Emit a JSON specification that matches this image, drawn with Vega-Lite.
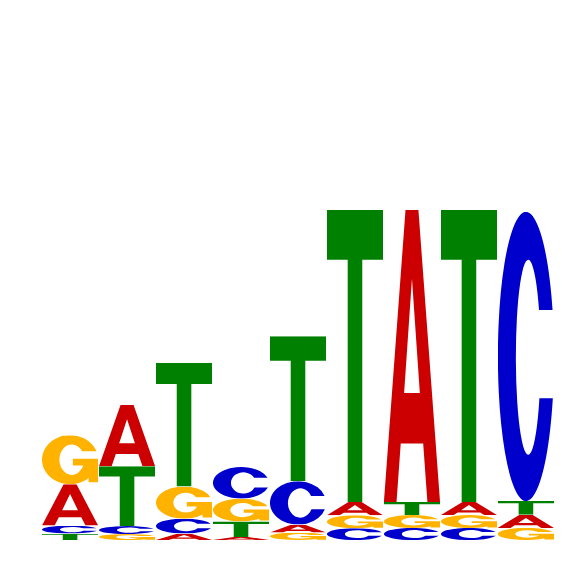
{
  "$schema": "https://vega.github.io/schema/vega-lite/v6.json",
  "width": 512,
  "height": 514,
  "autosize": {"type": "none"},
  "padding": {"left": 42, "top": 26, "right": 12, "bottom": 26},
  "background": "white",
  "config": {"view": {"stroke": null}},
  "data": {
    "values": [
      {"pos": 1, "letter": "T", "bits": 0.025},
      {"pos": 1, "letter": "C", "bits": 0.031},
      {"pos": 1, "letter": "A", "bits": 0.161},
      {"pos": 1, "letter": "G", "bits": 0.191},
      {"pos": 2, "letter": "G", "bits": 0.023},
      {"pos": 2, "letter": "C", "bits": 0.031},
      {"pos": 2, "letter": "T", "bits": 0.233},
      {"pos": 2, "letter": "A", "bits": 0.239},
      {"pos": 3, "letter": "A", "bits": 0.025},
      {"pos": 3, "letter": "C", "bits": 0.058},
      {"pos": 3, "letter": "G", "bits": 0.125},
      {"pos": 3, "letter": "T", "bits": 0.481},
      {"pos": 4, "letter": "A", "bits": 0.012},
      {"pos": 4, "letter": "T", "bits": 0.060},
      {"pos": 4, "letter": "G", "bits": 0.089},
      {"pos": 4, "letter": "C", "bits": 0.123},
      {"pos": 5, "letter": "G", "bits": 0.029},
      {"pos": 5, "letter": "A", "bits": 0.031},
      {"pos": 5, "letter": "C", "bits": 0.169},
      {"pos": 5, "letter": "T", "bits": 0.564},
      {"pos": 6, "letter": "C", "bits": 0.046},
      {"pos": 6, "letter": "G", "bits": 0.050},
      {"pos": 6, "letter": "A", "bits": 0.052},
      {"pos": 6, "letter": "T", "bits": 1.136},
      {"pos": 7, "letter": "C", "bits": 0.047},
      {"pos": 7, "letter": "G", "bits": 0.050},
      {"pos": 7, "letter": "T", "bits": 0.051},
      {"pos": 7, "letter": "A", "bits": 1.136},
      {"pos": 8, "letter": "C", "bits": 0.047},
      {"pos": 8, "letter": "G", "bits": 0.050},
      {"pos": 8, "letter": "A", "bits": 0.051},
      {"pos": 8, "letter": "T", "bits": 1.136},
      {"pos": 9, "letter": "G", "bits": 0.047},
      {"pos": 9, "letter": "A", "bits": 0.051},
      {"pos": 9, "letter": "T", "bits": 0.054},
      {"pos": 9, "letter": "C", "bits": 1.125}
    ]
  },
  "transform": [
    {
      "stack": "bits",
      "groupby": ["pos"],
      "sort": [{"field": "bits", "order": "ascending"}],
      "as": ["y0", "y1"]
    }
  ],
  "mark": {"type": "image", "aspect": false},
  "encoding": {
    "x": {
      "field": "pos",
      "type": "ordinal",
      "axis": null,
      "scale": {"paddingInner": 0.015, "paddingOuter": 0}
    },
    "y": {
      "field": "y1",
      "type": "quantitative",
      "axis": null,
      "scale": {"domain": [0, 2]}
    },
    "y2": {"field": "y0"},
    "url": {
      "condition": [
        {
          "test": "datum.letter === 'A'",
          "value": "data:image/svg+xml;charset=utf-8,<svg xmlns='http://www.w3.org/2000/svg' viewBox='0 0 100 100' preserveAspectRatio='none'><path fill='%23CC0000' fill-rule='evenodd' d='M0,100L38.5,0H61.5L100,100H77.5L70,80H30L22.5,100ZM50,23.5L64,62.7H36Z'/></svg>"
        },
        {
          "test": "datum.letter === 'C'",
          "value": "data:image/svg+xml;charset=utf-8,<svg xmlns='http://www.w3.org/2000/svg' viewBox='0 0 100 100' preserveAspectRatio='none'><path fill='%230000CC' d='M97.4,34A50,50 0 1 0 97.9,64.5H74A22,33.7 0 1 1 73.3,34Z'/></svg>"
        },
        {
          "test": "datum.letter === 'G'",
          "value": "data:image/svg+xml;charset=utf-8,<svg xmlns='http://www.w3.org/2000/svg' viewBox='0 0 100 100' preserveAspectRatio='none'><path fill='%23FFB300' d='M97,33A50,50 0 1 0 99.75,55H74.7A22,31 0 1 1 71.4,33Z'/><path fill='%23FFB300' d='M55,48H100V96H83V62H55Z'/></svg>"
        }
      ],
      "value": "data:image/svg+xml;charset=utf-8,<svg xmlns='http://www.w3.org/2000/svg' viewBox='0 0 100 100' preserveAspectRatio='none'><path fill='%23008000' d='M0,0H100V17H63V100H37V17H0Z'/></svg>"
    }
  }
}
